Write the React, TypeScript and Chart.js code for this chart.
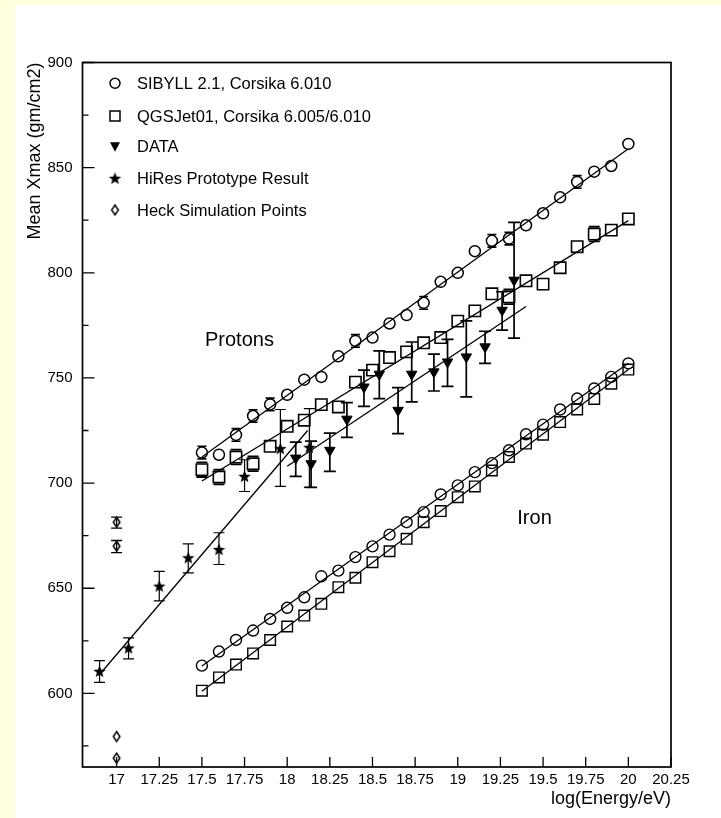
import React, { useEffect, useRef } from "react";
import { Chart, registerables } from "chart.js";
Chart.register(...registerables);

// ---------- data ----------
const simEnergy = [17.5, 17.6, 17.7, 17.8, 17.9, 18.0, 18.1, 18.2, 18.3, 18.4, 18.5, 18.6, 18.7, 18.8, 18.9, 19.0, 19.1, 19.2, 19.3, 19.4, 19.5, 19.6, 19.7, 19.8, 19.9, 20.0];

const protonSibyll = [714.5, 713.5, 722.9, 731.9, 737.4, 742.0, 749.2, 750.5, 760.3, 767.6, 769.2, 775.9, 779.9, 785.7, 795.7, 800.0, 810.3, 815.2, 816.3, 822.6, 828.3, 835.9, 843.2, 848.1, 850.8, 861.3];
const protonSibyllErr = [3, 0, 3, 3, 3, 0, 0, 0, 0, 3, 0, 0, 0, 3, 0, 0, 0, 3, 3, 0, 0, 0, 3, 0, 0, 0];
const protonQgsjet = [706.4, 702.9, 712.4, 709.2, 717.5, 727.0, 729.9, 737.3, 736.2, 748.0, 753.7, 759.7, 762.4, 766.7, 769.2, 777.0, 781.9, 790.0, 788.6, 796.2, 794.6, 802.4, 812.4, 818.4, 820.3, 825.6];
const protonQgsjetErr = [3.5, 3.5, 3.5, 3.5, 0, 0, 0, 0, 0, 0, 0, 0, 0, 0, 0, 0, 0, 0, 3.5, 0, 0, 0, 0, 3.5, 0, 0];
const ironSibyll = [613.2, 619.9, 625.4, 629.9, 635.4, 640.7, 645.7, 655.7, 658.4, 664.8, 669.9, 675.5, 681.4, 686.2, 694.6, 698.9, 705.2, 709.5, 715.6, 723.2, 727.8, 735.0, 740.2, 745.0, 750.5, 756.9];
const ironQgsjet = [601.3, 607.6, 613.7, 619.0, 625.4, 631.8, 637.0, 642.6, 650.5, 655.0, 662.4, 667.6, 673.5, 681.4, 686.7, 693.3, 698.4, 706.0, 712.4, 718.8, 723.0, 729.0, 735.0, 740.0, 747.3, 754.0];

const dataEnergy = [18.05, 18.14, 18.25, 18.35, 18.45, 18.54, 18.65, 18.73, 18.86, 18.94, 19.05, 19.16, 19.26, 19.33];
const dataXmax = [711.9, 709.2, 715.6, 730.4, 745.7, 751.8, 734.6, 751.8, 752.9, 757.6, 760.0, 764.8, 782.2, 796.5];
const dataUpper = [719.5, 720.0, 723.8, 738.3, 753.7, 762.9, 745.4, 767.1, 761.3, 768.3, 777.1, 772.2, 791.0, 824.0];
const dataLower = [703.2, 698.0, 705.6, 721.7, 736.5, 740.2, 723.5, 738.6, 743.8, 746.0, 741.0, 756.9, 772.7, 768.9];

const hiresEnergy = [16.9, 17.07, 17.25, 17.42, 17.6, 17.75, 17.96, 18.13];
const hiresXmax = [610.5, 621.6, 651.0, 664.5, 668.4, 703.2, 716.4, 717.0];
const hiresUpper = [615.6, 626.4, 658.0, 671.1, 676.4, 711.1, 735.0, 735.4];
const hiresLower = [605.2, 616.4, 644.0, 657.3, 661.3, 696.0, 698.4, 698.0];

const heckEnergy = [17.0, 17.0, 17.0, 17.0];
const heckXmax = [681.4, 670.0, 579.5, 569.2];
const heckUpper = [683.8, 672.7, 579.5, 569.2];
const heckLower = [678.6, 666.9, 579.5, 569.2];

const fitProtonSibyllE = [17.5, 20.0];
const fitProtonSibyllX = [712.4, 859.0];
const fitProtonQgsjetE = [17.5, 20.0];
const fitProtonQgsjetX = [701.0, 824.8];
const fitDataE = [18.0, 19.4];
const fitDataX = [708.0, 784.0];
const fitHiresE = [16.9, 18.12];
const fitHiresX = [609.0, 725.0];
const fitIronSibyllE = [17.5, 20.0];
const fitIronSibyllX = [613.0, 757.0];
const fitIronQgsjetE = [17.5, 20.0];
const fitIronQgsjetX = [601.0, 754.0];

const xTicks = [17, 17.25, 17.5, 17.75, 18, 18.25, 18.5, 18.75, 19, 19.25, 19.5, 19.75, 20, 20.25];
const xTickLabels = ["17", "17.25", "17.5", "17.75", "18", "18.25", "18.5", "18.75", "19", "19.25", "19.5", "19.75", "20", "20.25"];
const yTicks = [600, 650, 700, 750, 800, 850, 900];
const yMinorTicks = [575, 625, 675, 725, 775, 825, 875];

const legendLabels = [
  "SIBYLL 2.1, Corsika 6.010",
  "QGSJet01, Corsika 6.005/6.010",
  "DATA",
  "HiRes Prototype Result",
  "Heck Simulation Points",
];

const FONT = "'Liberation Sans', Arial, Helvetica, sans-serif";

const pts = (xs: number[], ys: number[]) => xs.map((x, i) => ({ x, y: ys[i] }));

function makeStar(): HTMLCanvasElement {
  const size = 15;
  const c = document.createElement("canvas");
  c.width = size;
  c.height = size;
  const ctx = c.getContext("2d")!;
  ctx.beginPath();
  for (let k = 0; k < 10; k++) {
    const r = k % 2 === 0 ? 6.6 : 2.8;
    const a = -Math.PI / 2 + (k * Math.PI) / 5;
    ctx.lineTo(size / 2 + r * Math.cos(a), size / 2 + 0.5 + r * Math.sin(a));
  }
  ctx.closePath();
  ctx.fillStyle = "#000";
  ctx.fill();
  return c;
}

function makeDiamond(): HTMLCanvasElement {
  const c = document.createElement("canvas");
  c.width = 11;
  c.height = 14;
  const ctx = c.getContext("2d")!;
  ctx.beginPath();
  ctx.moveTo(5.5, 2);
  ctx.lineTo(8.8, 7);
  ctx.lineTo(5.5, 12);
  ctx.lineTo(2.2, 7);
  ctx.closePath();
  ctx.lineWidth = 1.5;
  ctx.strokeStyle = "#000";
  ctx.stroke();
  return c;
}

export default function App() {
  const ref = useRef<HTMLCanvasElement | null>(null);

  useEffect(() => {
    if (!ref.current) return;
    const star = makeStar();
    const diamond = makeDiamond();

    const fitLine = (xs: number[], ys: number[]) => ({
      type: "line" as const,
      data: pts(xs, ys),
      showLine: true,
      borderColor: "#000",
      borderWidth: 1.3,
      pointRadius: 0,
      fill: false,
      label: "",
    });

    const errorBars = {
      id: "errorBars",
      beforeDatasetsDraw(chart: any) {
        const { ctx, scales } = chart;
        const y = scales.y;
        chart.data.datasets.forEach((ds: any, i: number) => {
          if (!ds.errUpper) return;
          const meta = chart.getDatasetMeta(i);
          ctx.save();
          ctx.strokeStyle = "#000";
          ctx.lineWidth = ds.errWidth || 1.2;
          meta.data.forEach((el: any, j: number) => {
            const hi = ds.errUpper[j];
            const lo = ds.errLower[j];
            if (hi === undefined || hi === lo) return;
            const px = el.x;
            const yh = y.getPixelForValue(hi);
            const yl = y.getPixelForValue(lo);
            const cw = ds.capWidth || 5;
            ctx.beginPath();
            if (!ds.capOnly) {
              ctx.moveTo(px, yh);
              ctx.lineTo(px, yl);
            }
            ctx.moveTo(px - cw, yh);
            ctx.lineTo(px + cw, yh);
            ctx.moveTo(px - cw, yl);
            ctx.lineTo(px + cw, yl);
            ctx.stroke();
          });
          ctx.restore();
        });
      },
    };

    const frame = {
      id: "frame",
      afterDraw(chart: any) {
        const { ctx, chartArea: a, scales } = chart;
        const x = scales.x;
        const y = scales.y;
        ctx.save();
        ctx.strokeStyle = "#000";
        ctx.lineWidth = 1.3;
        ctx.beginPath();
        xTicks.forEach((v) => {
          const px = x.getPixelForValue(v);
          ctx.moveTo(px, a.bottom);
          ctx.lineTo(px, a.bottom - 10);
        });
        yTicks.forEach((v) => {
          const py = y.getPixelForValue(v);
          ctx.moveTo(a.left, py);
          ctx.lineTo(a.left + 12, py);
        });
        yMinorTicks.forEach((v) => {
          const py = y.getPixelForValue(v);
          ctx.moveTo(a.left, py);
          ctx.lineTo(a.left + 6, py);
        });
        ctx.stroke();
        ctx.lineWidth = 1.7;
        ctx.strokeRect(a.left, a.top, a.right - a.left, a.bottom - a.top);

        // annotations
        ctx.fillStyle = "#000";
        ctx.font = `20px ${FONT}`;
        ctx.textAlign = "center";
        ctx.textBaseline = "middle";
        ctx.fillText("Protons", x.getPixelForValue(17.72), y.getPixelForValue(768));
        ctx.fillText("Iron", x.getPixelForValue(19.45), y.getPixelForValue(683));

        // legend
        const rowOff = [20.8, 53.5, 84.2, 115.8, 147.5];
        const mx = a.left + 32.5;
        const tx = a.left + 54.5;
        ctx.font = `16.5px ${FONT}`;
        ctx.textAlign = "left";
        legendLabels.forEach((lab, i) => {
          const cy = a.top + rowOff[i];
          ctx.lineWidth = 1.5;
          ctx.beginPath();
          if (i === 0) {
            ctx.arc(mx, cy, 5, 0, Math.PI * 2);
            ctx.stroke();
          } else if (i === 1) {
            ctx.strokeRect(mx - 5, cy - 5, 10, 10);
          } else if (i === 2) {
            ctx.moveTo(mx - 5, cy - 4.5);
            ctx.lineTo(mx + 5, cy - 4.5);
            ctx.lineTo(mx, cy + 5);
            ctx.closePath();
            ctx.fill();
          } else if (i === 3) {
            ctx.drawImage(star, mx - star.width / 2, cy - star.height / 2);
          } else {
            ctx.drawImage(diamond, mx - diamond.width / 2, cy - diamond.height / 2);
          }
          ctx.fillText(lab, tx, cy + 1);
        });
        ctx.restore();
      },
    };

    const chart = new Chart(ref.current, {
      type: "scatter",
      data: {
        datasets: [
          fitLine(fitProtonSibyllE, fitProtonSibyllX),
          fitLine(fitProtonQgsjetE, fitProtonQgsjetX),
          fitLine(fitDataE, fitDataX),
          fitLine(fitHiresE, fitHiresX),
          fitLine(fitIronSibyllE, fitIronSibyllX),
          fitLine(fitIronQgsjetE, fitIronQgsjetX),
          {
            label: "SIBYLL 2.1, Corsika 6.010",
            data: pts(simEnergy, protonSibyll),
            pointStyle: "circle",
            pointRadius: 5.5,
            borderColor: "#000",
            backgroundColor: "rgba(0,0,0,0)",
            pointBorderWidth: 1.5,
            errUpper: protonSibyll.map((v, i) => v + protonSibyllErr[i]),
            errLower: protonSibyll.map((v, i) => v - protonSibyllErr[i]),
            capOnly: true,
            capWidth: 4.5,
            errWidth: 1.6,
          } as any,
          {
            label: "SIBYLL iron",
            data: pts(simEnergy, ironSibyll),
            pointStyle: "circle",
            pointRadius: 5.5,
            borderColor: "#000",
            backgroundColor: "rgba(0,0,0,0)",
            pointBorderWidth: 1.4,
          },
          {
            label: "QGSJet01, Corsika 6.005/6.010",
            data: pts(simEnergy, protonQgsjet),
            pointStyle: "rect",
            pointRadius: 8,
            borderColor: "#000",
            backgroundColor: "rgba(0,0,0,0)",
            pointBorderWidth: 1.6,
            errUpper: protonQgsjet.map((v, i) => v + protonQgsjetErr[i]),
            errLower: protonQgsjet.map((v, i) => v - protonQgsjetErr[i]),
            capOnly: true,
            capWidth: 5.5,
            errWidth: 1.8,
          } as any,
          {
            label: "QGSJet iron",
            data: pts(simEnergy, ironQgsjet),
            pointStyle: "rect",
            pointRadius: 7.5,
            borderColor: "#000",
            backgroundColor: "rgba(0,0,0,0)",
            pointBorderWidth: 1.4,
          },
          {
            label: "DATA",
            data: pts(dataEnergy, dataXmax),
            pointStyle: "triangle",
            pointRotation: 180,
            pointRadius: 6,
            borderColor: "#000",
            backgroundColor: "#000",
            pointBorderWidth: 1,
            errUpper: dataUpper,
            errLower: dataLower,
            capWidth: 6,
            errWidth: 1.7,
          } as any,
          {
            label: "HiRes Prototype Result",
            data: pts(hiresEnergy, hiresXmax),
            pointStyle: star,
            errUpper: hiresUpper,
            errLower: hiresLower,
            capWidth: 5.5,
            errWidth: 1.2,
          } as any,
          {
            label: "Heck Simulation Points",
            data: pts(heckEnergy, heckXmax),
            pointStyle: diamond,
            errUpper: heckUpper,
            errLower: heckLower,
            capWidth: 5.5,
            errWidth: 1.3,
          } as any,
        ],
      },
      options: {
        responsive: false,
        animation: false,
        devicePixelRatio: 1,
        events: [],
        layout: { padding: { left: 0, top: 57.5, right: 50, bottom: 0 } },
        plugins: { legend: { display: false }, tooltip: { enabled: false } },
        scales: {
          x: {
            type: "linear",
            min: 16.8,
            max: 20.25,
            afterBuildTicks: (s: any) => {
              s.ticks = xTicks.map((v) => ({ value: v }));
            },
            afterFit: (s: any) => {
              s.height = 51;
            },
            ticks: {
              autoSkip: false,
              maxRotation: 0,
              minRotation: 0,
              padding: 4,
              color: "#000",
              font: { family: FONT, size: 15 },
              callback: (v: any) => xTickLabels[xTicks.indexOf(Number(v))] ?? "",
            },
            grid: { display: false, drawTicks: false },
            border: { display: false },
            title: {
              display: true,
              text: "log(Energy/eV)",
              align: "end",
              color: "#000",
              font: { family: FONT, size: 18 },
              padding: { top: 0, bottom: 8 },
            },
          },
          y: {
            type: "linear",
            min: 565,
            max: 900,
            afterBuildTicks: (s: any) => {
              s.ticks = yTicks.map((v) => ({ value: v }));
            },
            afterFit: (s: any) => {
              s.width = 67.5;
            },
            ticks: {
              padding: 10,
              color: "#000",
              font: { family: FONT, size: 15 },
              callback: (v: any) => String(v),
            },
            grid: { display: false, drawTicks: false },
            border: { display: false },
            title: {
              display: true,
              text: "Mean Xmax (gm/cm2)",
              align: "end",
              color: "#000",
              font: { family: FONT, size: 18 },
              padding: { top: 9.5, bottom: 0 },
            },
          },
        },
      } as any,
      plugins: [errorBars, frame],
    });
    return () => chart.destroy();
  }, []);

  return (
    <div
      style={{
        position: "fixed",
        left: 0,
        top: 0,
        width: 721,
        height: 818,
        background: "#FFFFDD",
        overflow: "hidden",
      }}
    >
      <canvas
        ref={ref}
        width={706}
        height={813}
        style={{ position: "absolute", left: 15, top: 5, width: 706, height: 813, background: "#fff" }}
      />
    </div>
  );
}
